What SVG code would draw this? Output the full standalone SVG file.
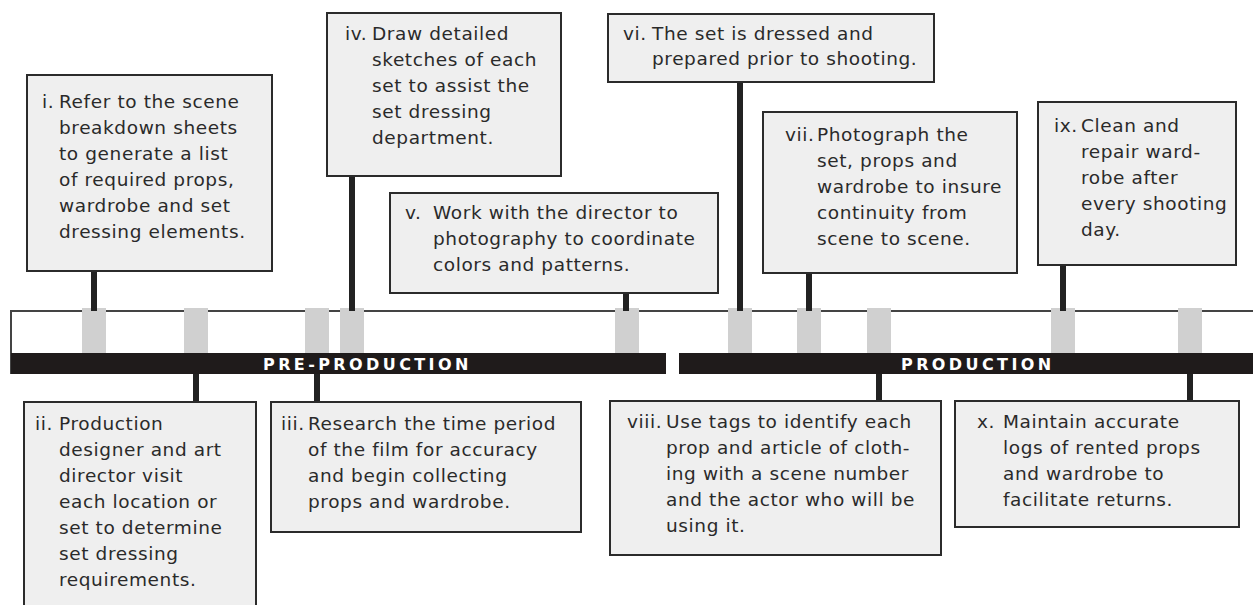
<svg xmlns="http://www.w3.org/2000/svg" width="1253" height="605" viewBox="0 0 1253 605">
<style>
.box{fill:#efefef;stroke:#2b2b2b;stroke-width:2}
.t{font-family:"DejaVu Sans",sans-serif;font-size:18.5px;letter-spacing:0.6px;fill:#2a2a2a}
.tab{fill:#d0d0d0}
.bar{fill:#1f1b1b}
.lbl{font-family:"DejaVu Sans",sans-serif;font-weight:bold;font-size:16px;letter-spacing:3.4px;fill:#ffffff}
.con{stroke:#222;stroke-width:6;fill:none}
</style>
<rect width="1253" height="605" fill="#ffffff"/>
<g id="timeline">
  <line x1="11" y1="311" x2="1253" y2="311" stroke="#444" stroke-width="2"/>
  <line x1="11" y1="310" x2="11" y2="374" stroke="#444" stroke-width="2"/>
  <rect class="tab" x="82" y="308" width="24" height="45"/>
  <rect class="tab" x="184" y="308" width="24" height="45"/>
  <rect class="tab" x="305" y="308" width="24" height="45"/>
  <rect class="tab" x="340" y="308" width="24" height="45"/>
  <rect class="tab" x="615" y="308" width="24" height="45"/>
  <rect class="tab" x="728" y="308" width="24" height="45"/>
  <rect class="tab" x="797" y="308" width="24" height="45"/>
  <rect class="tab" x="867" y="308" width="24" height="45"/>
  <rect class="tab" x="1051" y="308" width="24" height="45"/>
  <rect class="tab" x="1178" y="308" width="24" height="45"/>
  <rect class="bar" x="11" y="353" width="655" height="21"/>
  <rect class="bar" x="679" y="353" width="574" height="21"/>
  <text class="lbl" x="263" y="370">PRE-PRODUCTION</text>
  <text class="lbl" x="901" y="370">PRODUCTION</text>
</g>
<g id="connectors">
  <line class="con" x1="94" y1="271" x2="94" y2="311"/>
  <line class="con" x1="352" y1="176" x2="352" y2="311"/>
  <line class="con" x1="626" y1="293" x2="626" y2="311"/>
  <line class="con" x1="740" y1="82" x2="740" y2="311"/>
  <line class="con" x1="809" y1="273" x2="809" y2="311"/>
  <line class="con" x1="1063" y1="265" x2="1063" y2="311"/>
  <line class="con" x1="196" y1="374" x2="196" y2="402"/>
  <line class="con" x1="317" y1="374" x2="317" y2="402"/>
  <line class="con" x1="879" y1="374" x2="879" y2="401"/>
  <line class="con" x1="1190" y1="374" x2="1190" y2="401"/>
</g>
<g id="node-i">
  <rect class="box" x="27" y="75" width="245" height="196"/>
  <text class="t"><tspan x="42" y="108">i.</tspan><tspan x="59" y="108">Refer to the scene</tspan><tspan x="59" y="134">breakdown sheets</tspan><tspan x="59" y="160">to generate a list</tspan><tspan x="59" y="186">of required props,</tspan><tspan x="59" y="212">wardrobe and set</tspan><tspan x="59" y="238">dressing elements.</tspan></text>
</g>
<g id="node-ii">
  <rect class="box" x="24" y="402" width="232" height="230"/>
  <text class="t"><tspan x="35" y="430">ii.</tspan><tspan x="59" y="430">Production</tspan><tspan x="59" y="456">designer and art</tspan><tspan x="59" y="482">director visit</tspan><tspan x="59" y="508">each location or</tspan><tspan x="59" y="534">set to determine</tspan><tspan x="59" y="560">set dressing</tspan><tspan x="59" y="586">requirements.</tspan></text>
</g>
<g id="node-iii">
  <rect class="box" x="271" y="402" width="310" height="130"/>
  <text class="t"><tspan x="281" y="430">iii.</tspan><tspan x="308" y="430">Research the time period</tspan><tspan x="308" y="456">of the film for accuracy</tspan><tspan x="308" y="482">and begin collecting</tspan><tspan x="308" y="508">props and wardrobe.</tspan></text>
</g>
<g id="node-iv">
  <rect class="box" x="327" y="13" width="234" height="163"/>
  <text class="t"><tspan x="345" y="40">iv.</tspan><tspan x="372" y="40">Draw detailed</tspan><tspan x="372" y="66">sketches of each</tspan><tspan x="372" y="92">set to assist the</tspan><tspan x="372" y="118">set dressing</tspan><tspan x="372" y="144">department.</tspan></text>
</g>
<g id="node-v">
  <rect class="box" x="390" y="193" width="328" height="100"/>
  <text class="t"><tspan x="405" y="219">v.</tspan><tspan x="433" y="219">Work with the director to</tspan><tspan x="433" y="245">photography to coordinate</tspan><tspan x="433" y="271">colors and patterns.</tspan></text>
</g>
<g id="node-vi">
  <rect class="box" x="608" y="14" width="326" height="68"/>
  <text class="t"><tspan x="623" y="40">vi.</tspan><tspan x="652" y="40">The set is dressed and</tspan><tspan x="652" y="65">prepared prior to shooting.</tspan></text>
</g>
<g id="node-vii">
  <rect class="box" x="763" y="112" width="254" height="161"/>
  <text class="t"><tspan x="785" y="141">vii.</tspan><tspan x="817" y="141">Photograph the</tspan><tspan x="817" y="167">set, props and</tspan><tspan x="817" y="193">wardrobe to insure</tspan><tspan x="817" y="219">continuity from</tspan><tspan x="817" y="245">scene to scene.</tspan></text>
</g>
<g id="node-viii">
  <rect class="box" x="610" y="401" width="331" height="154"/>
  <text class="t"><tspan x="627" y="428">viii.</tspan><tspan x="666" y="428">Use tags to identify each</tspan><tspan x="666" y="454">prop and article of cloth-</tspan><tspan x="666" y="480">ing with a scene number</tspan><tspan x="666" y="506">and the actor who will be</tspan><tspan x="666" y="532">using it.</tspan></text>
</g>
<g id="node-ix">
  <rect class="box" x="1038" y="102" width="198" height="163"/>
  <text class="t"><tspan x="1054" y="132">ix.</tspan><tspan x="1081" y="132">Clean and</tspan><tspan x="1081" y="158">repair ward-</tspan><tspan x="1081" y="184">robe after</tspan><tspan x="1081" y="210">every shooting</tspan><tspan x="1081" y="236">day.</tspan></text>
</g>
<g id="node-x">
  <rect class="box" x="955" y="401" width="284" height="126"/>
  <text class="t"><tspan x="977" y="428">x.</tspan><tspan x="1003" y="428">Maintain accurate</tspan><tspan x="1003" y="454">logs of rented props</tspan><tspan x="1003" y="480">and wardrobe to</tspan><tspan x="1003" y="506">facilitate returns.</tspan></text>
</g>
</svg>
